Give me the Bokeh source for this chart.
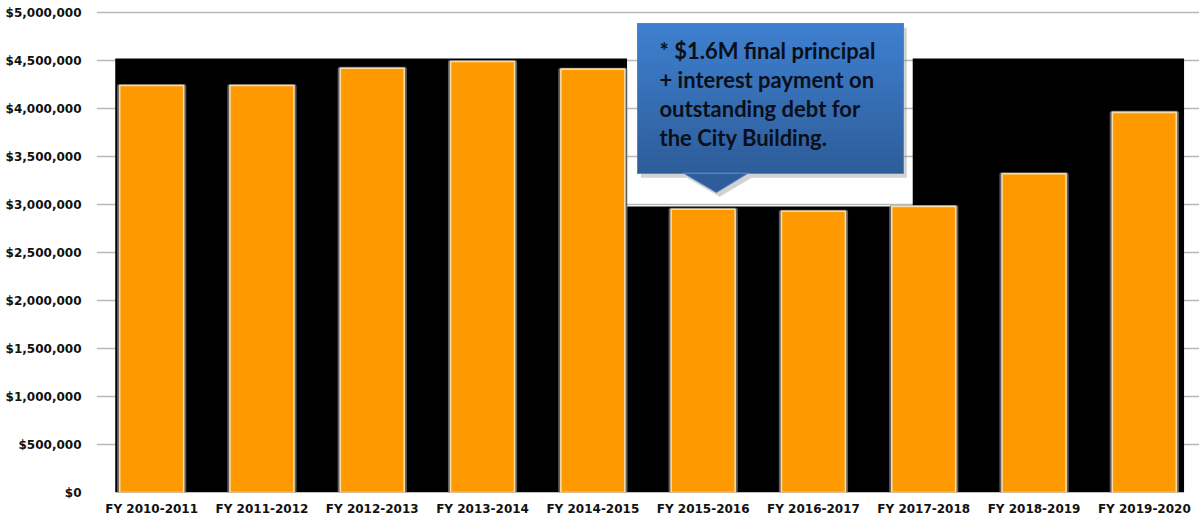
from bokeh.plotting import figure
from bokeh.models import Range1d, FixedTicker, NumeralTickFormatter
from bokeh.core.properties import value
from bokeh.embed import file_html
from bokeh.resources import INLINE

# ---- data ----
years = ["FY 2010-2011", "FY 2011-2012", "FY 2012-2013", "FY 2013-2014", "FY 2014-2015",
         "FY 2015-2016", "FY 2016-2017", "FY 2017-2018", "FY 2018-2019", "FY 2019-2020"]
amounts = [4240000, 4240000, 4420000, 4490000, 4410000,
           2950000, 2930000, 2980000, 3320000, 3960000]
y_ticks = [0, 500000, 1000000, 1500000, 2000000, 2500000, 3000000, 3500000, 4000000, 4500000, 5000000]
note_lines = ["* $1.6M final principal", "+ interest payment on",
              "outstanding debt for", "the City Building."]

xs = list(range(len(years)))

p = figure(width=1199, height=519, x_range=Range1d(-0.5, len(years) - 0.5),
           y_range=Range1d(0, 5125000), output_backend="svg", toolbar_location=None,
           min_border_left=96, min_border_right=0, min_border_top=0, min_border_bottom=27)
p.background_fill_color = "white"
p.border_fill_color = "white"
p.outline_line_color = None

# grid
p.xgrid.grid_line_color = None
p.ygrid.grid_line_color = "#b8b8b8"
p.ygrid.grid_line_width = 1.5

# axes
p.yaxis.ticker = FixedTicker(ticks=y_ticks)
p.yaxis.formatter = NumeralTickFormatter(format="$0,0")
p.xaxis.ticker = FixedTicker(ticks=xs)
p.xaxis.major_label_overrides = {i: y for i, y in zip(xs, years)}
for ax in (p.xaxis[0], p.yaxis[0]):
    ax.axis_line_color = None
    ax.major_tick_line_color = None
    ax.minor_tick_line_color = None
    ax.major_tick_out = 0
    ax.major_tick_in = 0
    ax.minor_tick_out = 0
    ax.minor_tick_in = 0
    ax.major_label_text_font = "DejaVu Sans"
    ax.major_label_text_font_style = "bold"
    ax.major_label_text_font_size = "12px"
    ax.major_label_text_color = "#111111"
p.yaxis.major_label_standoff = 15
p.xaxis.major_label_standoff = 9

# black backdrop (stepped shape; white notch behind callout)
top_hi = 4520000
top_lo = 2980000
p.quad(left=[-0.33, 4.31, 6.90], right=[4.31, 6.90, 9.36], bottom=[0, 0, 0],
       top=[top_hi, top_lo, top_hi], fill_color="black", line_color=None)

# bars with glow
p.vbar(x=xs, top=amounts, width=0.60, bottom=0, fill_color=None,
       line_color="#8a8a8a", line_alpha=0.7, line_width=3)
p.vbar(x=xs, top=amounts, width=0.58, bottom=0, fill_color="#FF9900",
       line_color="#f8dcaa", line_width=1.6)

# callout
bx0, bx1 = 4.405, 6.816
by0, by1 = 3323000, 4885000
# shadow
p.quad(left=[bx0 + 0.03], right=[bx1 + 0.03], bottom=[by0 - 45000], top=[by1 - 45000],
       fill_color="#7f7f7f", fill_alpha=0.35, line_color=None)
p.patch([4.82 + 0.03, 5.41 + 0.03, 5.12 + 0.03], [by0 - 45000, by0 - 45000, 3125000 - 45000],
        fill_color="#7f7f7f", fill_alpha=0.35, line_color=None)
# gradient bands
n = 40
c_top = (0x3E, 0x80, 0xD0)
c_bot = (0x2E, 0x5D, 0x9A)
lefts, rights, bots, tops, cols = [], [], [], [], []
for i in range(n):
    t = i / (n - 1)
    c = tuple(int(round(a + (b - a) * t)) for a, b in zip(c_top, c_bot))
    hi = by1 - (by1 - by0) * i / n
    lo = by1 - (by1 - by0) * (i + 1) / n
    lefts.append(bx0); rights.append(bx1); tops.append(hi); bots.append(lo)
    cols.append("#%02x%02x%02x" % c)
p.quad(left=lefts, right=rights, bottom=bots, top=tops, fill_color=cols,
       line_color=cols, line_width=1)
p.patch([4.82, 5.41, 5.12], [by0 + 5000, by0 + 5000, 3125000], fill_color="#2E5D9A",
        line_color="#4a7fc0", line_width=1)
p.quad(left=[bx0], right=[bx1], bottom=[by0], top=[by1], fill_color=None,
       line_color="#4f86c6", line_width=1)

line_y = [4604000, 4302000, 4000000, 3698000]
p.text(x=[4.604] * len(note_lines), y=line_y, text=note_lines,
       text_font=value("Lato"), text_font_style="bold", text_font_size="22px",
       text_color="#0a0f1a", text_baseline="middle", text_align="left")

open("out.html", "w").write(file_html(p, INLINE))
